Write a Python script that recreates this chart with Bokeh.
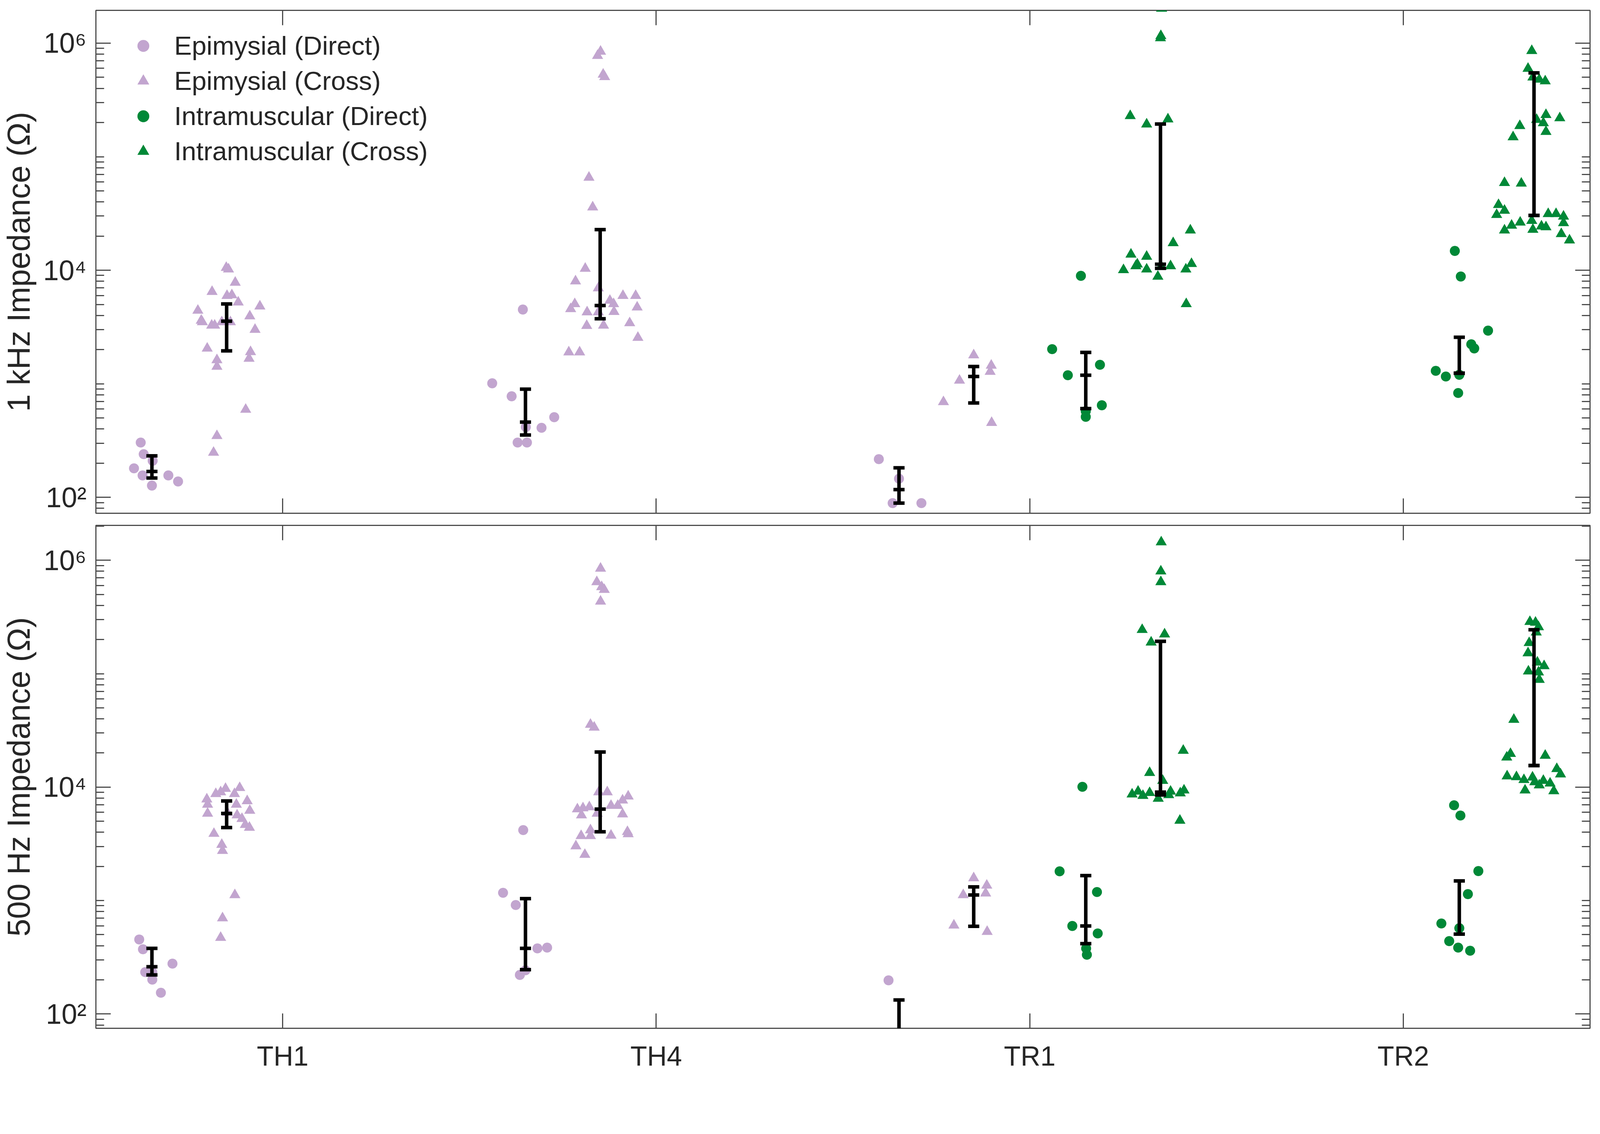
from bokeh.plotting import figure
from bokeh.models import (Range1d, LogAxis, LinearAxis, FixedTicker, Legend,
                          LegendItem, ColumnDataSource, CustomJSTickFormatter)
from bokeh.layouts import column
from bokeh.embed import file_html
from bokeh.resources import INLINE

# ------------------------------------------------------------------ data
categories = ["TH1", "TH4", "TR1", "TR2"]
series_labels = ["Epimysial (Direct)", "Epimysial (Cross)",
                 "Intramuscular (Direct)", "Intramuscular (Cross)"]
y_labels = ["1 kHz Impedance (\u03a9)", "500 Hz Impedance (\u03a9)"]

# ---- 1 kHz panel (impedance in ohms) ----
k1_epi_direct = {
    "TH1": [304, 240, 210, 180, 156, 127, 156, 138],
    "TH4": [4510, 1010, 776, 508, 410, 416, 304, 304],
    "TR1": [217, 146, 89, 89],
}
k1_epi_direct_jit = {
    "TH1": [-0.030, -0.022, 0.002, -0.048, -0.025, 0.0, 0.044, 0.070],
    "TH4": [-0.007, -0.089, -0.037, 0.077, 0.043, 0.001, -0.021, 0.004],
    "TR1": [-0.054, 0.0, -0.017, 0.060],
}
k1_epi_direct_bar = {"TH1": [148, 169, 232], "TH4": [354, 460, 897], "TR1": [89, 117, 182]}

k1_epi_cross = {
    "TH1": [10540, 10210, 7800, 6470, 5970, 6050, 5220, 4420, 4820, 3610, 3500, 3270, 3270,
            3500, 3500, 3940, 3000, 2050, 1910, 1620, 1420, 1670, 593, 348, 248],
    "TH4": [845000, 776000, 530000, 505000, 65600, 35900, 10350, 8020, 6970, 5970, 5970, 5050,
            4570, 4280, 5410, 5050, 4310, 4280, 4720, 3250, 3270, 3430, 2550, 1900, 1900],
    "TR1": [1790, 1450, 1280, 1070, 692, 454],
}
k1_epi_cross_jit = {
    "TH1": [-0.001, 0.005, 0.023, -0.039, 0.001, 0.014, 0.031, -0.077, 0.089, -0.068, -0.065,
            -0.040, -0.032, -0.013, 0.010, 0.062, 0.076, -0.052, 0.064, -0.026, -0.026, 0.060,
            0.051, -0.026, -0.035],
    "TH4": [0.001, -0.007, 0.008, 0.012, -0.030, -0.020, -0.040, -0.066, -0.005, 0.061, 0.095,
            -0.068, -0.079, -0.035, 0.026, 0.036, 0.037, -0.005, 0.099, -0.036, 0.009, 0.079,
            0.101, -0.084, -0.055],
    "TR1": [0.0, 0.047, 0.044, -0.038, -0.081, 0.048],
}
k1_epi_cross_bar = {"TH1": [1950, 3560, 5050], "TH4": [3740, 4890, 22800], "TR1": [678, 1160, 1420]}

k1_im_direct = {
    "TR1": [8930, 2020, 1470, 1190, 647, 574, 512],
    "TR2": [14800, 8810, 2940, 2230, 2050, 1300, 1160, 1200, 830],
}
k1_im_direct_jit = {
    "TR1": [-0.013, -0.090, 0.038, -0.048, 0.043, 0.0, 0.0],
    "TR2": [-0.012, 0.004, 0.077, 0.032, 0.040, -0.063, -0.036, 0.0, -0.003],
}
k1_im_direct_bar = {"TR1": [605, 1190, 1890], "TR2": [1240, 1240, 2570]}

k1_im_cross = {
    "TR1": [2020000, 1160000, 1110000, 229000, 214000, 193000, 22500, 17400, 13800, 13200,
            11300, 10900, 10070, 10200, 10900, 10800, 8810, 10200, 11400, 5050],
    "TR2": [857000, 597000, 501000, 479000, 463000, 234000, 219000, 212000, 198000, 187000,
            166000, 149000, 58900, 58200, 37700, 33600, 30800, 31400, 31400, 29800, 24800,
            26400, 27300, 22800, 24400, 24000, 26100, 22500, 20900, 18400],
}
k1_im_cross_jit = {
    "TR1": [0.003, 0.001, 0.0, -0.081, 0.020, -0.037, 0.080, 0.034, -0.079, -0.037, -0.062,
            -0.066, -0.099, -0.037, 0.027, 0.002, -0.007, 0.068, 0.083, 0.069],
    "TR2": [-0.006, -0.016, -0.003, 0.014, 0.030, 0.032, 0.069, 0.007, 0.025, -0.038, 0.032,
            -0.056, -0.079, -0.034, -0.095, -0.079, -0.100, 0.038, 0.059, 0.079, -0.060,
            -0.037, -0.006, -0.003, 0.020, 0.032, 0.079, -0.079, 0.073, 0.095],
}
k1_im_cross_bar = {"TR1": [10400, 11300, 194000], "TR2": [30400, 30400, 547000]}

# ---- 500 Hz panel (impedance in ohms) ----
h5_epi_direct = {
    "TH1": [454, 372, 234, 234, 201, 278, 154],
    "TH4": [4180, 1170, 914, 379, 385, 243, 221],
    "TR1": [198],
}
h5_epi_direct_jit = {
    "TH1": [-0.034, -0.024, -0.018, 0.001, 0.001, 0.055, 0.024],
    "TH4": [-0.006, -0.060, -0.026, 0.032, 0.058, 0.0, -0.015],
    "TR1": [-0.028],
}
h5_epi_direct_bar = {"TH1": [221, 261, 379], "TH4": [246, 379, 1040], "TR1": [40, 55, 133]}

h5_epi_cross = {
    "TH1": [9860, 9700, 9040, 8730, 8730, 7820, 7030, 5860, 7550, 7030, 6210, 5960, 5660, 5260,
            4660, 4400, 3890, 3110, 2750, 1120, 700, 471],
    "TH4": [847000, 644000, 582000, 550000, 434000, 35600, 33600, 9040, 9040, 8300, 7660, 6400,
            6530, 6680, 6870, 6870, 5860, 5660, 5780, 4180, 3720, 3720, 3750, 4040, 3860, 3020,
            2540],
    "TR1": [1580, 1360, 1160, 1120, 605, 532],
}
h5_epi_cross_jit = {
    "TH1": [0.035, -0.003, -0.016, -0.029, 0.021, -0.053, -0.051, -0.051, 0.055, 0.026, 0.062,
            0.002, 0.028, 0.041, 0.050, 0.061, -0.034, -0.013, -0.011, 0.022, -0.011, -0.016],
    "TH4": [0.001, -0.009, 0.004, 0.011, 0.001, -0.026, -0.016, -0.004, 0.019, 0.075, 0.060,
            -0.061, -0.046, -0.029, 0.029, 0.047, -0.008, -0.050, 0.060, -0.026, -0.051, -0.026,
            0.029, 0.073, 0.075, -0.065, -0.041],
    "TR1": [0.0, 0.035, 0.032, -0.028, -0.053, 0.036],
}
h5_epi_cross_bar = {"TH1": [4400, 5860, 7550], "TH4": [4040, 6400, 20400], "TR1": [593, 1120, 1320]}

h5_im_direct = {
    "TR1": [10070, 1810, 1190, 597, 513, 379, 333],
    "TR2": [6920, 5620, 1820, 1140, 628, 571, 439, 385, 361],
}
h5_im_direct_jit = {
    "TR1": [-0.009, -0.070, 0.030, -0.036, 0.032, 0.001, 0.003],
    "TR2": [-0.014, 0.003, 0.051, 0.023, -0.048, 0.0, -0.027, -0.003, 0.029],
}
h5_im_direct_bar = {"TR1": [417, 597, 1660], "TR2": [506, 506, 1490]}

h5_im_cross = {
    "TR1": [1445000, 800000, 644000, 244000, 223000, 189000, 21000, 13400, 11400, 8650, 9160,
            8410, 8910, 7940, 8530, 9160, 8850, 9380, 5080],
    "TR2": [287000, 283000, 258000, 232000, 187000, 152000, 126000, 117000, 105000, 103000,
            88700, 39400, 18300, 19700, 19000, 14500, 13000, 12500, 12300, 11600, 12200, 11100,
            11400, 10400, 10800, 9380, 9250],
}
h5_im_cross_jit = {
    "TR1": [0.002, 0.001, 0.001, -0.049, 0.011, -0.025, 0.061, -0.029, 0.006, -0.076, -0.060,
            -0.047, -0.029, -0.006, 0.022, 0.027, 0.053, 0.063, 0.052],
    "TR2": [-0.011, 0.004, 0.012, 0.006, -0.013, -0.016, 0.009, 0.027, -0.015, 0.012, 0.014,
            -0.054, -0.073, -0.063, 0.030, 0.061, 0.071, -0.072, -0.047, -0.027, -0.004, 0.002,
            0.025, 0.014, 0.043, -0.024, 0.053],
}
h5_im_cross_bar = {"TR1": [8530, 9040, 193000], "TR2": [15500, 15500, 244000]}

# ------------------------------------------------------------------ style
PURPLE = "#c2a5cf"
GREEN = "#008837"
AXIS_COLOR = "#4d4d4d"
TEXT_COLOR = "#262626"
FONT = "Liberation Sans"
series_style = [
    dict(marker="circle", color=PURPLE, size=25.6, offset=-0.35),
    dict(marker="triangle", color=PURPLE, size=28.5, offset=-0.15),
    dict(marker="circle", color=GREEN, size=25.6, offset=0.15),
    dict(marker="triangle", color=GREEN, size=28.5, offset=0.35),
]
CAP_HALF = 0.0149
BAR_WIDTH = 9
FRAME_W, FRAME_H = 3825, 1287

y_major = [1e2, 1e4, 1e6]
y_minor = [k * 10.0 ** e for e in range(1, 7) for k in range(1, 10) if k * 10.0 ** e not in y_major]
y_tick_text = {100: "10\u00b2", 10000: "10\u2074", 1000000: "10\u2076"}


def style_axis(ax, tick_len, minor_len, labels):
    ax.axis_line_color = None
    ax.major_tick_in = tick_len
    ax.major_tick_out = 0
    ax.minor_tick_in = minor_len
    ax.minor_tick_out = 0
    ax.major_tick_line_color = AXIS_COLOR
    ax.major_tick_line_width = 3
    ax.minor_tick_line_color = AXIS_COLOR
    ax.minor_tick_line_width = 3
    if not labels:
        ax.formatter = CustomJSTickFormatter(code="return ''")
        ax.major_label_text_font_size = "1px"
        ax.major_label_standoff = 0


def build_panel(s_vals, s_jits, s_bars, ylabel, yrange, top_b, bot_b, show_xlabels, with_legend):
    p = figure(frame_width=FRAME_W, frame_height=FRAME_H,
               x_range=Range1d(0.5, 4.5), y_range=Range1d(*yrange),
               y_axis_type="log", output_backend="svg", toolbar_location=None,
               min_border_left=240, min_border_right=12,
               min_border_top=top_b, min_border_bottom=bot_b,
               background_fill_color="white", border_fill_color="white")
    p.xgrid.visible = False
    p.ygrid.visible = False
    p.outline_line_color = AXIS_COLOR
    p.outline_line_width = 3

    yt = FixedTicker(ticks=y_major, minor_ticks=y_minor)
    xt = FixedTicker(ticks=[i + 1 for i in range(len(categories))], minor_ticks=[])

    ly = p.yaxis[0]
    ly.ticker = yt
    style_axis(ly, 38, 21, True)
    ly.major_label_overrides = y_tick_text
    ly.major_label_text_font = FONT
    ly.major_label_text_font_size = "72px"
    ly.major_label_text_color = TEXT_COLOR
    ly.major_label_standoff = 24
    ly.axis_label = ylabel
    ly.axis_label_text_font = FONT
    ly.axis_label_text_font_size = "81px"
    ly.axis_label_text_font_style = "normal"
    ly.axis_label_text_color = TEXT_COLOR
    ly.axis_label_standoff = 14

    ry = LogAxis(ticker=yt)
    style_axis(ry, 38, 21, False)
    p.add_layout(ry, "right")

    bx = p.xaxis[0]
    bx.ticker = xt
    style_axis(bx, 38, 0, show_xlabels)
    if show_xlabels:
        bx.major_label_overrides = {i + 1: c for i, c in enumerate(categories)}
        bx.major_label_text_font = FONT
        bx.major_label_text_font_size = "70px"
        bx.major_label_text_color = TEXT_COLOR
        bx.major_label_standoff = 32

    tx = LinearAxis(ticker=xt)
    style_axis(tx, 38, 0, False)
    p.add_layout(tx, "above")

    renderers = []
    bx_, blo, bmd, bhi = [], [], [], []
    for vals, jits, bars, st in zip(s_vals, s_jits, s_bars, series_style):
        xs, ys = [], []
        for cat, v in vals.items():
            base = categories.index(cat) + 1 + st["offset"]
            xs += [base + j for j in jits[cat]]
            ys += list(v)
        src = ColumnDataSource(dict(x=xs, y=ys))
        r = p.scatter("x", "y", source=src, marker=st["marker"], size=st["size"],
                      fill_color=st["color"], line_color=None)
        renderers.append(r)
        for cat, (lo, md, hi) in bars.items():
            bx_.append(categories.index(cat) + 1 + st["offset"])
            blo.append(lo)
            bmd.append(md)
            bhi.append(hi)

    bsrc = ColumnDataSource(dict(
        x=bx_, x0=[x - CAP_HALF for x in bx_], x1=[x + CAP_HALF for x in bx_],
        lo=blo, md=bmd, hi=bhi))
    p.segment(x0="x", x1="x", y0="lo", y1="hi", source=bsrc, line_color="black",
              line_width=BAR_WIDTH)
    for col in ("lo", "md", "hi"):
        p.segment(x0="x0", x1="x1", y0=col, y1=col, source=bsrc,
                  line_color="black", line_width=BAR_WIDTH)

    if with_legend:
        legend = Legend(items=[LegendItem(label=lab, renderers=[r])
                               for lab, r in zip(series_labels, renderers)],
                        location="top_left", margin=52, padding=0, spacing=13,
                        glyph_width=139, glyph_height=76, label_height=76,
                        label_standoff=10, label_text_font=FONT,
                        label_text_font_size="67.5px", label_text_color=TEXT_COLOR,
                        border_line_color=None, background_fill_alpha=0)
        p.add_layout(legend)
    return p


p1 = build_panel([k1_epi_direct, k1_epi_cross, k1_im_direct, k1_im_cross],
                 [k1_epi_direct_jit, k1_epi_cross_jit, k1_im_direct_jit, k1_im_cross_jit],
                 [k1_epi_direct_bar, k1_epi_cross_bar, k1_im_direct_bar, k1_im_cross_bar],
                 y_labels[0], (72.4, 1.945e6), 26, 15, False, True)
p2 = build_panel([h5_epi_direct, h5_epi_cross, h5_im_direct, h5_im_cross],
                 [h5_epi_direct_jit, h5_epi_cross_jit, h5_im_direct_jit, h5_im_cross_jit],
                 [h5_epi_direct_bar, h5_epi_cross_bar, h5_im_direct_bar, h5_im_cross_bar],
                 y_labels[1], (74.8, 2.03e6), 16, 0, True, False)

layout = column(p1, p2, spacing=0)
open("out.html", "w").write(file_html(layout, INLINE))
